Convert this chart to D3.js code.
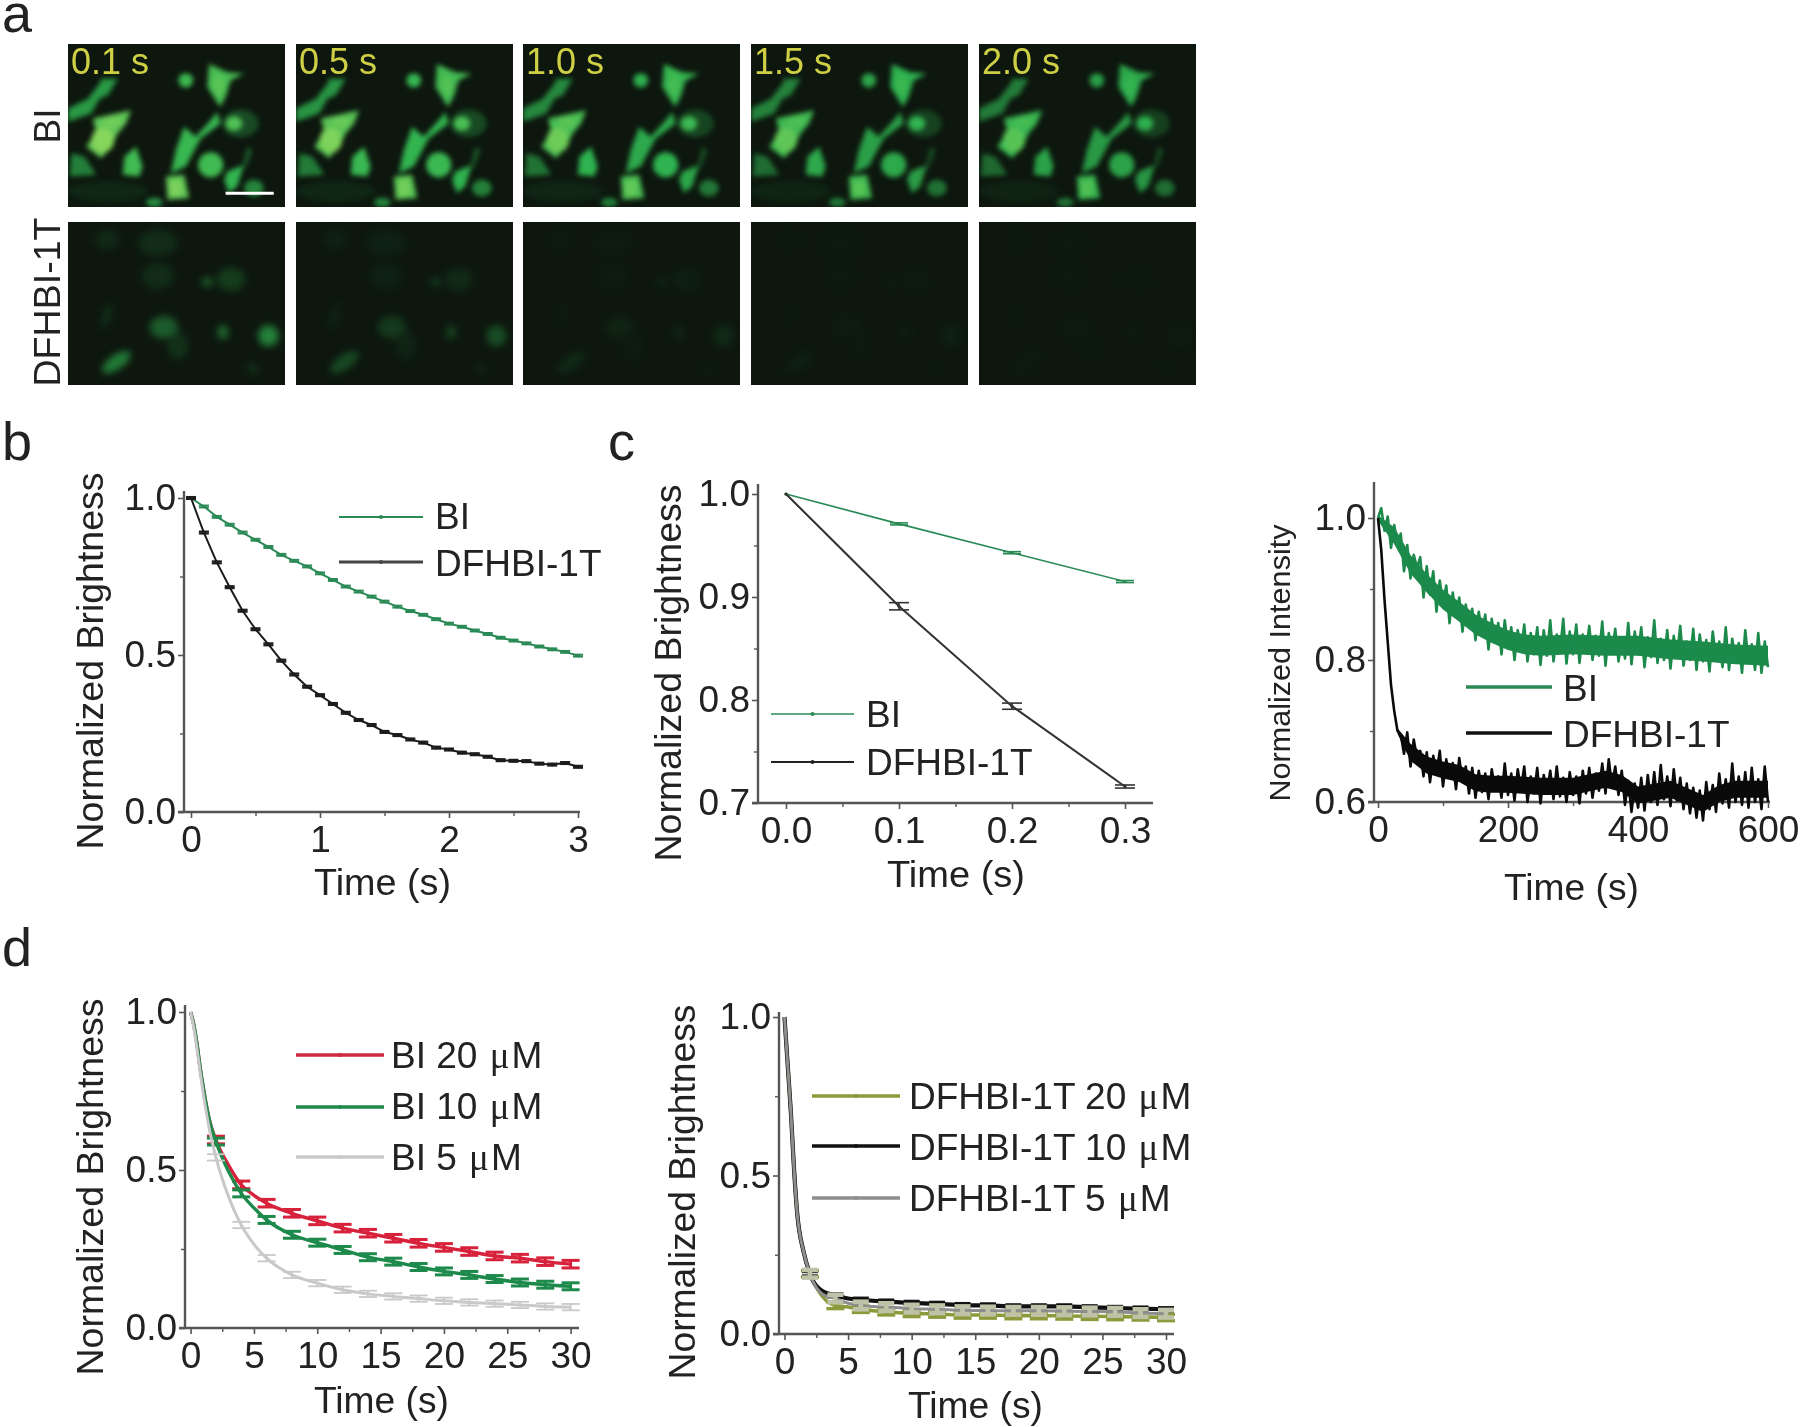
<!DOCTYPE html>
<html>
<head>
<meta charset="utf-8">
<title>Brightness traces</title>
<script src="https://cdn.jsdelivr.net/npm/d3@7"></script>
<style>
  body { margin: 0; background: #fff; }
  text { font-family: "Liberation Sans", Arial, sans-serif; fill: #222; }
</style>
</head>
<body>
<div id="figure"></div>
<script>
/******************************************************
 *!                     Data
*******************************************************/
// panel a
const frameLabels = ["0.1 s", "0.5 s", "1.0 s", "1.5 s", "2.0 s"];
const biFade = [1, 0.96, 0.88, 0.82, 0.78];
const dfhbiFade = [1, 0.5, 0.18, 0.08, 0.04];
// outlines in zoomed picture units, [x, y] inside one frame
const biCells = [
  [[0, 195], [60, 165], [95, 120], [100, 105], [150, 105], [120, 155], [95, 165], [70, 210], [0, 235]],
  [[75, 225], [190, 200], [175, 240], [150, 270], [130, 310], [100, 345], [55, 310], [85, 265]],
  [[425, 60], [480, 85], [530, 90], [490, 110], [475, 160], [458, 190], [420, 130]],
  [[350, 250], [385, 280], [430, 230], [450, 205], [460, 240], [400, 285], [355, 370], [310, 390], [325, 320]],
  [[295, 400], [350, 395], [365, 465], [300, 470]],
  [[170, 340], [205, 310], [225, 370], [215, 400], [165, 395]],
  [[10, 330], [50, 340], [85, 395], [5, 400]],
  [[480, 385], [530, 365], [510, 430], [485, 450], [470, 410]],
  [[540, 310], [556, 320], [535, 375], [525, 372]]
];
const biCellLevels = [0.5, 0.82, 0.72, 0.64, 0.82, 0.68, 0.4, 0.62, 0.25];
const biSpots = [
  [120, 445, 120, 32, 0.06, 0],
  [520, 240, 55, 42, 0.2, 0],
  [355, 110, 22, 22, 0.66, 0],
  [500, 240, 25, 22, 0.75, 0],
  [430, 365, 38, 38, 0.68, 0],
  [560, 435, 30, 25, 0.42, 0],
  [260, 478, 25, 14, 0.45, 0]
];
const biCores = [
  [105, 290, 34, 38, 1, 0],
  [135, 235, 28, 16, 0.9, 0],
  [325, 435, 20, 26, 0.95, 0],
  [455, 125, 16, 30, 0.8, 0]
];
const dfhbiSpots = [
  [604, 343, 31, 32, 0.4, 0],
  [467, 333, 17, 22, 0.3, 0],
  [289, 318, 43, 34, 0.26, 0],
  [420, 181, 18, 15, 0.24, 0],
  [491, 173, 43, 36, 0.14, 0],
  [146, 423, 50, 22, 0.38, -35],
  [331, 373, 31, 42, 0.1, 0],
  [271, 63, 60, 40, 0.08, 0],
  [117, 53, 36, 30, 0.07, 0],
  [117, 283, 12, 38, 0.1, 15],
  [557, 443, 19, 18, 0.08, 0],
  [271, 163, 48, 40, 0.08, 0]
];

// panel b
const bTime = d3.range(0, 31).map(d => d / 10);
const bBI = [1.0, .973, .94, .915, .89, .867, .844, .819, .80, .782, .76, .739, .718, .702, .686, .67, .654, .64, .628, .614, .60, .59, .578, .567, .555, .546, .537, .527, .518, .51, .498];
const bDFHBI = [1.0, .89, .795, .716, .641, .582, .534, .482, .438, .399, .372, .344, .316, .293, .277, .255, .245, .231, .221, .205, .199, .189, .184, .176, .165, .163, .162, .154, .151, .156, .144];
const bXTicks = [0, 1, 2, 3];
const bYTicks = [0, 0.5, 1];

// panel c
const cTime = [0, 0.1, 0.2, 0.3];
const cBI = [1.0, .971, .943, .915];
const cDFHBI = [1.0, .891, .794, .716];
const cDFHBIErr = [0, .0035, .003, .0015];
const cBIErr = [0, .001, .001, .001];
const cXTicks = [0, 0.1, 0.2, 0.3];
const cYTicks = [0.7, 0.8, 0.9, 1.0];

// panel c right, one reading every 5 s
const traceTime = d3.range(0, 121).map(d => d * 5);
const traceBI = [1.0, 1.014, .982, 1.002, .958, .990, .962, .978, .925, .962, .915, .948, .930, .945, .888, .932, .892, .925, .868, .912, .880, .905, .852, .895, .862, .888, .840, .878, .852, .872, .828, .868, .838, .864, .815, .858, .825, .852, .808, .856, .818, .846, .800, .842, .812, .850, .798, .838, .808, .846, .793, .842, .806, .856, .798, .836, .812, .858, .795, .840, .808, .850, .796, .836, .812, .848, .800, .834, .806, .854, .792, .838, .810, .844, .798, .832, .802, .852, .794, .840, .808, .846, .790, .832, .804, .856, .796, .830, .800, .842, .788, .834, .806, .848, .792, .826, .800, .844, .786, .836, .798, .828, .784, .840, .802, .826, .790, .846, .786, .830, .798, .824, .782, .842, .796, .822, .786, .838, .782, .826, .790];
const traceDFHBI = [1.0, .955, .885, .825, .765, .728, .700, .695, .668, .698, .650, .688, .662, .672, .636, .670, .628, .665, .640, .672, .622, .660, .634, .655, .618, .662, .628, .650, .612, .648, .606, .644, .614, .640, .604, .646, .618, .636, .606, .654, .610, .640, .602, .646, .618, .650, .600, .636, .612, .648, .598, .638, .612, .644, .604, .650, .608, .634, .600, .642, .610, .636, .598, .644, .612, .648, .606, .640, .616, .654, .612, .660, .622, .650, .610, .644, .596, .630, .586, .626, .592, .634, .588, .638, .600, .642, .596, .652, .604, .636, .594, .646, .602, .634, .590, .626, .584, .620, .578, .616, .574, .628, .590, .624, .586, .640, .598, .632, .592, .654, .600, .636, .596, .642, .592, .648, .600, .632, .590, .650, .600];
// solid middle of the two noisy bands
const bandTime = [0, 25, 50, 75, 100, 125, 150, 175, 200, 225, 250, 300, 350, 400, 450, 500, 550, 600];
const bandBIMid = [1.0, .975, .935, .908, .885, .868, .85, .838, .828, .822, .82, .822, .82, .82, .815, .812, .808, .806];
const bandBIHalf = [.004, .012, .013, .013, .014, .014, .014, .014, .014, .014, .014, .014, .014, .014, .014, .014, .014, .014];
const bandDarkTime = [30, 50, 75, 100, 125, 150, 175, 200, 250, 300, 350, 375, 400, 450, 500, 525, 550, 600];
const bandDarkMid = [.70, .67, .652, .645, .64, .627, .625, .625, .622, .622, .632, .626, .61, .618, .598, .612, .618, .618];
const bandDarkHalf = [.004, .012, .012, .012, .012, .012, .012, .012, .012, .012, .012, .012, .012, .012, .012, .012, .012, .012];
const traceXTicks = [0, 200, 400, 600];
const traceYTicks = [0.6, 0.8, 1.0];

// panel d
const dTime = [0, 0.25, 0.5, 0.75, 1, 1.5, 2, 3, 4, 5, 6, 8, 10, 12, 14, 16, 18, 20, 22, 24, 26, 28, 30];
const dBI20 = [1.0, .96, .90, .825, .76, .655, .595, .515, .453, .42, .395, .363, .339, .316, .30, .284, .268, .255, .242, .228, .221, .21, .202];
const dBI10 = [1.0, .96, .90, .825, .76, .655, .59, .495, .426, .38, .342, .295, .27, .247, .224, .21, .193, .179, .168, .155, .144, .137, .132];
const dBI5 = [1.0, .95, .885, .81, .74, .625, .54, .415, .326, .265, .221, .168, .142, .121, .108, .10, .093, .086, .081, .077, .073, .068, .066];
const dDF20 = [1.0, .85, .70, .52, .38, .26, .19, .118, .09, .085, .078, .07, .065, .063, .06, .06, .058, .058, .057, .056, .055, .054, .052];
const dDF10 = [1.0, .85, .70, .52, .38, .26, .19, .135, .122, .112, .108, .102, .098, .095, .091, .09, .087, .087, .087, .084, .082, .08, .078];
const dDF5 = [1.0, .85, .70, .52, .38, .26, .19, .125, .112, .097, .09, .085, .08, .078, .075, .074, .073, .073, .072, .071, .07, .066, .064];
const dXTicks = [0, 5, 10, 15, 20, 25, 30];
const dYTicks = [0, 0.5, 1];

/******************************************************
 *!                    Constants
*******************************************************/
const WIDTH = 1800;
const HEIGHT = 1427;
const FONT_SIZE = 37;
const GREEN = "#2a8a55";
const TRACE_GREEN = "#1c8a4a";
const BLACK = "#1c1c1c";
const FRAME_BG = "#0d170e";

const svg = d3.select("#figure").append("svg")
  .attr("width", WIDTH)
  .attr("height", HEIGHT)
  .attr("viewBox", `0 0 ${WIDTH} ${HEIGHT}`);

const defs = svg.append("defs");
const addBlur = (id, dev) => defs.append("filter")
  .attr("id", id)
  .attr("filterUnits", "userSpaceOnUse")
  .attr("color-interpolation-filters", "sRGB")
  .attr("x", -20).attr("y", -20).attr("width", WIDTH + 40).attr("height", HEIGHT + 40)
  .append("feGaussianBlur").attr("stdDeviation", dev);
addBlur("soft", 0.7);
addBlur("cells", 2.8);
addBlur("cellsDim", 3.6);

const root = svg.append("g").attr("filter", "url(#soft)");

/******************************************************
 *!                 Text helpers
*******************************************************/
function label(x, y, str, size, fitTo) {
  const t = root.append("text")
    .attr("x", x).attr("y", y)
    .attr("font-size", size || FONT_SIZE)
    .text(str);
  if (fitTo) t.attr("textLength", fitTo).attr("lengthAdjust", "spacingAndGlyphs");
  return t;
}

function sideLabel(x, yCenter, str, size, fitTo) {
  const t = root.append("text")
    .attr("transform", `translate(${x},${yCenter}) rotate(-90)`)
    .attr("text-anchor", "middle")
    .attr("font-size", size || FONT_SIZE)
    .text(str);
  if (fitTo) t.attr("textLength", fitTo).attr("lengthAdjust", "spacingAndGlyphs");
  return t;
}

// legend text with the micro sign set in a serif face
function microLabel(x, y, head, tail) {
  const t = label(x, y, head);
  t.append("tspan").attr("dx", 2).style("font-family", "'Liberation Serif', serif").text("\u03bc");
  t.append("tspan").attr("dx", 2).text(tail);
  return t;
}

/******************************************************
 *!                   Panel a
*******************************************************/
function drawFrames() {
  const frameX = [68, 296, 523, 751, 979];
  const rows = [
    { y: 44, fade: biFade, polys: biCells, levels: biCellLevels, spots: biSpots, cores: biCores, blur: "cells" },
    { y: 222, fade: dfhbiFade, polys: [], levels: [], spots: dfhbiSpots, cores: [], blur: "cellsDim" }
  ];
  const u = d3.scaleLinear().domain([0, 654]).range([0, 217]);
  const v = d3.scaleLinear().domain([0, 492]).range([0, 163]);
  const colour = d3.scaleLinear()
    .domain([0, 0.6, 1])
    .range([FRAME_BG, "#2fb350", "#86d65c"]);
  const path = d3.line().x(d => u(d[0])).y(d => v(d[1])).curve(d3.curveLinearClosed);

  const addSpots = (g, spots, fade) => g.selectAll(null).data(spots).enter().append("ellipse")
    .attr("transform", d => `translate(${u(d[0])},${v(d[1])}) rotate(${d[5]})`)
    .attr("rx", d => u(d[2])).attr("ry", d => v(d[3]))
    .attr("fill", d => colour(d[4] * fade));

  rows.forEach((row, r) => {
    frameX.forEach((fx, i) => {
      const clipId = `clip-${r}-${i}`;
      defs.append("clipPath").attr("id", clipId).append("rect")
        .attr("width", u(654)).attr("height", v(492));
      const frame = svg.append("g").attr("transform", `translate(${fx},${row.y})`);
      frame.append("rect").attr("width", u(654)).attr("height", v(492)).attr("fill", FRAME_BG);
      const g = frame.append("g").attr("clip-path", `url(#${clipId})`);
      const cells = g.append("g").attr("filter", `url(#${row.blur})`);
      addSpots(cells, row.spots, row.fade[i]);
      cells.selectAll("path").data(row.polys).enter().append("path")
        .attr("d", path)
        .attr("fill", (d, k) => colour(row.levels[k] * row.fade[i]));
      addSpots(cells, row.cores, row.fade[i]);
      if (r === 0) {
        frame.append("text").attr("x", 3).attr("y", 30).attr("font-size", 36)
          .style("fill", "#cfcf45").text(frameLabels[i]);
        if (i === 0) {
          frame.append("rect").attr("x", u(475)).attr("y", v(446)).attr("width", u(145)).attr("height", 3).attr("fill", "#fff");
        }
      }
    });
  });
  label(2, 32, "a", 54);
  sideLabel(60, 126, "BI", 37);
  sideLabel(60, 302, "DFHBI-1T", 37, 169);
}

/******************************************************
 *!                 Axes for a plot
*******************************************************/
function drawAxes(p) {
  const x = d3.scaleLinear().domain(p.xDomain).range(p.xRange);
  const y = d3.scaleLinear().domain(p.yDomain).range(p.yRange);
  const axisColour = "#555";
  const g = root.append("g");

  const ax = g.append("g").attr("transform", `translate(0,${p.axisY})`)
    .call(d3.axisBottom(x).tickValues(p.xTicks).tickSize(6).tickPadding(8).tickSizeOuter(0).tickFormat(d3.format(p.xFormat)));
  const ay = g.append("g").attr("transform", `translate(${p.axisX},0)`)
    .call(d3.axisLeft(y).tickValues(p.yTicks).tickSize(6).tickPadding(2).tickSizeOuter(0).tickFormat(d3.format(".1f")));
  [ax, ay].forEach(a => {
    a.select(".domain").remove();
    a.selectAll("line").attr("stroke", axisColour).attr("stroke-width", 1.6);
    a.selectAll("text").attr("font-size", FONT_SIZE).attr("font-family", null).style("fill", "#222");
  });

  const minorX = g.append("g").attr("transform", `translate(0,${p.axisY})`)
    .call(d3.axisBottom(x).tickValues(p.xMinor).tickSize(4).tickFormat(""));
  const minorY = g.append("g").attr("transform", `translate(${p.axisX},0)`)
    .call(d3.axisLeft(y).tickValues(p.yMinor).tickSize(4).tickFormat(""));
  [minorX, minorY].forEach(a => {
    a.select(".domain").remove();
    a.selectAll("line").attr("stroke", axisColour).attr("stroke-width", 1.4);
  });

  g.append("line").attr("x1", p.axisX - 6).attr("x2", p.axisEnd)
    .attr("y1", p.axisY).attr("y2", p.axisY)
    .attr("stroke", axisColour).attr("stroke-width", 2.4);
  g.append("line").attr("x1", p.axisX).attr("x2", p.axisX)
    .attr("y1", p.axisTop).attr("y2", p.axisY)
    .attr("stroke", axisColour).attr("stroke-width", 2.4);

  return { x, y };
}

/******************************************************
 *!                Series and legends
*******************************************************/
function drawSeries(s, time, values, o) {
  const line = d3.line().x((d, i) => s.x(time[i])).y(d => s.y(d));
  if (o.curve) line.curve(o.curve);
  const g = root.append("g");
  g.append("path").datum(values)
    .attr("d", line)
    .attr("fill", "none")
    .attr("stroke", o.colour)
    .attr("stroke-width", o.width || 1.8)
    .attr("stroke-linejoin", "round");

  if (o.err) {
    const rows = time.map((t, i) => ({ t, v: values[i], e: typeof o.err === "number" ? o.err : o.err[i] }))
      .filter(d => o.errAt(d.t));
    const cap = o.cap || 5;
    [-1, 1].forEach(sign => {
      g.selectAll(null).data(rows).enter().append("line")
        .attr("x1", d => s.x(d.t) - cap).attr("x2", d => s.x(d.t) + cap)
        .attr("y1", d => s.y(d.v + sign * d.e)).attr("y2", d => s.y(d.v + sign * d.e))
        .attr("stroke", o.errColour || o.colour)
        .attr("stroke-width", o.errWidth || 1.6);
    });
    g.selectAll(null).data(rows).enter().append("line")
      .attr("x1", d => s.x(d.t)).attr("x2", d => s.x(d.t))
      .attr("y1", d => s.y(d.v - d.e)).attr("y2", d => s.y(d.v + d.e))
      .attr("stroke", o.errColour || o.colour)
      .attr("stroke-width", o.errWidth || 1.6);
  }
  if (o.dots) {
    g.selectAll(null).data(values).enter().append("circle")
      .attr("cx", (d, i) => s.x(time[i])).attr("cy", d => s.y(d))
      .attr("r", o.dots).attr("fill", o.colour);
  }
}

function drawBand(s, time, mid, half, colour) {
  const area = d3.area()
    .x((d, i) => s.x(time[i]))
    .y0((d, i) => s.y(d - half[i]))
    .y1((d, i) => s.y(d + half[i]));
  root.append("path").datum(mid).attr("d", area).attr("fill", colour);
}

function legendLine(x1, x2, y, colour, width, dot) {
  root.append("line").attr("x1", x1).attr("x2", x2).attr("y1", y).attr("y2", y)
    .attr("stroke", colour).attr("stroke-width", width);
  if (dot) {
    root.append("circle").attr("cx", (x1 + x2) / 2).attr("cy", y).attr("r", 2).attr("fill", colour);
  }
}

/******************************************************
 *!                   Panel b
*******************************************************/
function drawPanelB() {
  const s = drawAxes({
    xDomain: [0, 3], xRange: [191, 578], yDomain: [0, 1], yRange: [812, 498],
    xTicks: bXTicks, yTicks: bYTicks, xMinor: [0.5, 1.5, 2.5], yMinor: [0.25, 0.75],
    xFormat: "d", axisX: 184, axisY: 812, axisEnd: 580, axisTop: 491
  });
  const all = () => true;
  drawSeries(s, bTime, bBI, { colour: GREEN, width: 2, dots: 1.8, err: 0.003, errAt: all, cap: 5, errWidth: 2 });
  drawSeries(s, bTime, bDFHBI, { colour: BLACK, width: 2, dots: 1.8, err: 0.003, errAt: all, cap: 5, errWidth: 2.2 });
  legendLine(339, 423, 517, GREEN, 1.8, true);
  legendLine(339, 423, 562, "#444", 3, true);
  label(435, 529, "BI");
  label(435, 576, "DFHBI-1T");
  label(2, 460, "b", 54);
  sideLabel(103, 661, "Normalized  Brightness", 36, 377);
  label(314, 895, "Time (s)", 36, 137);
}

/******************************************************
 *!                   Panel c
*******************************************************/
function drawPanelC() {
  const s = drawAxes({
    xDomain: [0, 0.3], xRange: [786, 1125], yDomain: [0.7, 1], yRange: [803, 494],
    xTicks: cXTicks, yTicks: cYTicks, xMinor: [0.05, 0.15, 0.25], yMinor: [0.75, 0.85, 0.95],
    xFormat: ".1f", axisX: 758, axisY: 803, axisEnd: 1153, axisTop: 484
  });
  const all = t => t > 0;
  drawSeries(s, cTime, cBI, { colour: GREEN, width: 1.6, dots: 1.6, err: cBIErr, errAt: all, cap: 9 });
  drawSeries(s, cTime, cDFHBI, { colour: "#333", width: 2, dots: 1.6, err: cDFHBIErr, errAt: all, cap: 10 });
  legendLine(771, 854, 714, GREEN, 1.6, true);
  legendLine(771, 854, 762, "#222", 2, true);
  label(866, 727, "BI");
  label(866, 775, "DFHBI-1T");
  label(608, 460, "c", 54);
  sideLabel(681, 673, "Normalized  Brightness", 36, 377);
  label(887, 887, "Time (s)", 36, 138);
}

/******************************************************
 *!                Panel c, long trace
*******************************************************/
function drawPanelTrace() {
  const s = drawAxes({
    xDomain: [0, 600], xRange: [1378, 1768], yDomain: [0.6, 1], yRange: [802, 518],
    xTicks: traceXTicks, yTicks: traceYTicks, xMinor: [100, 300, 500], yMinor: [0.7, 0.9],
    xFormat: "d", axisX: 1374, axisY: 802, axisEnd: 1770, axisTop: 482
  });
  drawBand(s, bandTime, bandBIMid, bandBIHalf, TRACE_GREEN);
  drawSeries(s, traceTime, traceBI, { colour: TRACE_GREEN, width: 2.6 });
  drawBand(s, bandDarkTime, bandDarkMid, bandDarkHalf, "#0a0a0a");
  drawSeries(s, traceTime, traceDFHBI, { colour: "#0a0a0a", width: 2.6 });
  legendLine(1466, 1552, 687, "#2a8a55", 3.4);
  legendLine(1466, 1552, 733, "#111", 3.4);
  label(1563, 701, "BI");
  label(1563, 747, "DFHBI-1T");
  sideLabel(1290, 663, "Normalized Intensity", 30, 277);
  label(1504, 900, "Time (s)", 36, 135);
}

/******************************************************
 *!                   Panel d
*******************************************************/
function drawPanelD() {
  const even = t => t >= 2 && t % 2 === 0;
  const curve = d3.curveMonotoneX;

  const left = drawAxes({
    xDomain: [0, 30], xRange: [190.6, 570.6], yDomain: [0, 1], yRange: [1328, 1012],
    xTicks: dXTicks, yTicks: dYTicks, xMinor: [2.5, 7.5, 12.5, 17.5, 22.5, 27.5], yMinor: [0.25, 0.75],
    xFormat: "d", axisX: 185, axisY: 1328, axisEnd: 579, axisTop: 1005
  });
  drawSeries(left, dTime, dBI20, { colour: "#d8213b", width: 3.4, curve, err: 0.012, errAt: even, cap: 9, errWidth: 3 });
  drawSeries(left, dTime, dBI10, { colour: "#1d8a4b", width: 3.4, curve, err: 0.011, errAt: even, cap: 9, errWidth: 3 });
  drawSeries(left, dTime, dBI5, { colour: "#c9c9c9", width: 3, curve, err: 0.01, errAt: even, cap: 9, errWidth: 1.8 });
  legendLine(296, 384, 1055, "#cf2a40", 3.4, true);
  legendLine(296, 384, 1107, "#1d8a4b", 3.4, true);
  legendLine(296, 384, 1157, "#c9c9c9", 3.4, true);
  microLabel(391, 1068, "BI 20 ", "M");
  microLabel(391, 1119, "BI 10 ", "M");
  microLabel(391, 1170, "BI 5 ", "M");
  label(2, 966, "d", 54);
  sideLabel(103, 1187, "Normalized  Brightness", 36, 377);
  label(314, 1413, "Time (s)", 36, 135);

  const right = drawAxes({
    xDomain: [0, 30], xRange: [784.5, 1166], yDomain: [0, 1], yRange: [1334, 1017],
    xTicks: dXTicks, yTicks: dYTicks, xMinor: [2.5, 7.5, 12.5, 17.5, 22.5, 27.5], yMinor: [0.25, 0.75],
    xFormat: "d", axisX: 779, axisY: 1334, axisEnd: 1174, axisTop: 1012
  });
  drawSeries(right, dTime, dDF20, { colour: "#8c9a3c", width: 3.6, curve, err: 0.01, errAt: even, cap: 9, errWidth: 3.4 });
  drawSeries(right, dTime, dDF10, { colour: "#111", width: 4.2, curve, err: 0.006, errAt: even, cap: 8, errWidth: 2.6 });
  drawSeries(right, dTime, dDF5, { colour: "#8d8d8d", width: 3, curve, err: 0.012, errAt: even, cap: 8, errWidth: 4.6, errColour: "#bfc2a6" });
  legendLine(812, 900, 1096, "#8c9a3c", 3.4, true);
  legendLine(812, 900, 1146, "#111", 3.4, true);
  legendLine(812, 900, 1198, "#8d8d8d", 3.4, true);
  microLabel(909, 1109, "DFHBI-1T 20 ", "M");
  microLabel(909, 1160, "DFHBI-1T 10 ", "M");
  microLabel(909, 1211, "DFHBI-1T 5 ", "M");
  sideLabel(695, 1192, "Normalized  Brightness", 36, 375);
  label(908, 1418, "Time (s)", 36, 135);
}

/******************************************************
 *!                  Initial draw
*******************************************************/
drawFrames();
drawPanelB();
drawPanelC();
drawPanelTrace();
drawPanelD();
</script>
</body>
</html>
